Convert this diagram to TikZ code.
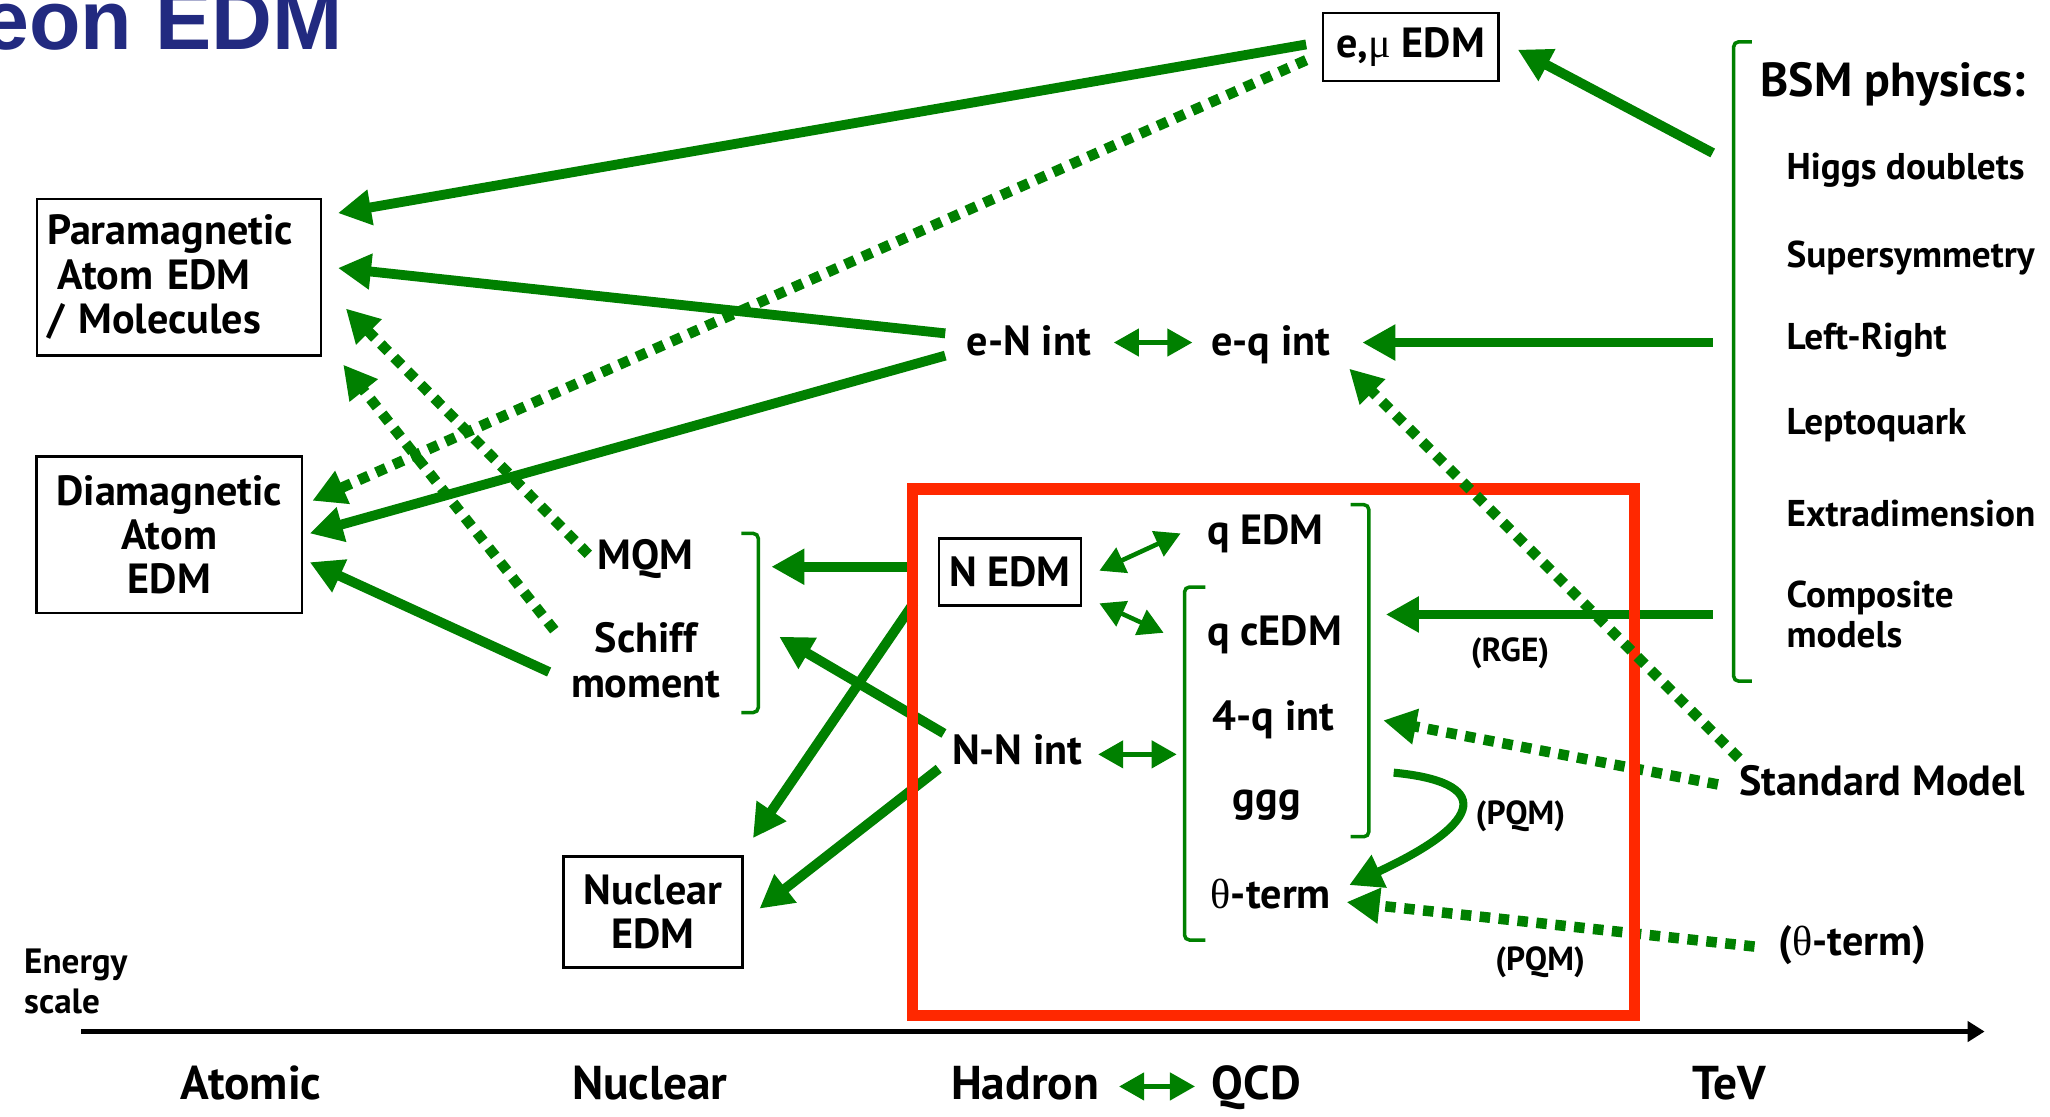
\documentclass[tikz,border=0pt]{standalone}
\usepackage{fontspec}
\setmainfont{PT Sans}
\newfontfamily\titlefont{Liberation Sans}
\newfontfamily\greekfont{Liberation Serif}
\usetikzlibrary{arrows.meta, calc}

\definecolor{edmgreen}{RGB}{0,128,0}
\definecolor{titleblue}{RGB}{34,42,128}
\definecolor{boxred}{RGB}{255,40,0}

\tikzset{
  lbl/.style={font=\bfseries\fontsize{12}{12.6}\selectfont, inner sep=0pt, align=center},
  flat/.style={text height=0.72em, text depth=0pt},
  word/.style={lbl, flat},
  edmbox/.style={lbl, draw=black, line width=0.7pt},
  item/.style={font=\bfseries\fontsize{10.6}{11.6}\selectfont, inner sep=0pt, anchor=west, align=left},
  note/.style={font=\bfseries\fontsize{9.5}{10}\selectfont, inner sep=0pt, flat},
  axislbl/.style={font=\bfseries\fontsize{13.5}{14}\selectfont, inner sep=0pt, flat},
  flow/.style={edmgreen, line width=2.8pt, -{Triangle[length=0.33cm,width=0.34cm]}},
  dotflow/.style={flow, line width=3pt, dash pattern=on 0.105cm off 0.085cm},
  link/.style={edmgreen, line width=1.3pt, {Triangle[length=0.25cm,width=0.27cm]}-{Triangle[length=0.25cm,width=0.27cm]}},
  brk/.style={edmgreen, line width=1pt, rounded corners=0.05cm},
}

\begin{document}
\begin{tikzpicture}[x=0.013074cm, y=-0.013074cm]
  \useasboundingbox (0,0) rectangle (1568,854);
  \fill[white] (0,0) rectangle (1568,854);

  % Title (cut by the page edge)
  \node[anchor=base east, font=\titlefont\bfseries\fontsize{24}{24}\selectfont, text=titleblue, inner sep=0pt] (title) at (263,38) {eon EDM};

  % Boxes
  \node[edmbox, minimum width=1.752cm, minimum height=0.68cm] (emu) at (1079,36) {e,{\greekfont\mdseries μ} EDM};
  \node[edmbox, text width=2.64cm, minimum height=1.569cm, inner sep=0.1cm, align=left] (para) at (137,212) {Paramagnetic\\\hspace*{0.25em}Atom EDM\\/ Molecules};
  \node[edmbox, minimum width=2.654cm, minimum height=1.569cm] (dia) at (129.5,409) {Diamagnetic\\Atom\\EDM};
  \node[edmbox, minimum width=1.425cm, minimum height=0.667cm] (nedm) at (772.5,437.5) {N EDM};
  \node[edmbox, minimum width=1.791cm, minimum height=1.111cm] (nuc) at (499.5,697.5) {Nuclear\\EDM};

  % Interactions
  \node[word] (eN) at (787,262) {e-N int};
  \node[word] (eq) at (972,262) {e-q int};
  \node[word] (mqm) at (494,426) {MQM};
  \node[lbl] (schiff) at (494,505) {Schiff\\moment};
  \node[word] (NN) at (778,575) {N-N int};
  \node[word] (qedm) at (968,407) {q EDM};
  \node[word] (qcedm) at (975,484) {q cEDM};
  \node[word] (fourq) at (974,549) {4-q int};
  \node[word] (ggg) at (969,611) {ggg};
  \node[word] (theta) at (972,685) {{\greekfont\mdseries θ}-term};

  % BSM list
  \node[item, flat, font=\bfseries\fontsize{13.6}{15}\selectfont] (bsm) at (1346,64) {BSM physics:};
  \node[item, flat] (higgs) at (1366,128) {Higgs doublets};
  \node[item, flat] (susy) at (1366,195) {Supersymmetry};
  \node[item, flat] (lr) at (1366,258) {Left-Right};
  \node[item, flat] (lq) at (1366,323) {Leptoquark};
  \node[item, flat] (xdim) at (1366,393) {Extradimension};
  \node[item] (comp) at (1366,470) {Composite\\models};
  \node[word, anchor=west] (sm) at (1330,599) {Standard Model};
  \node[word, anchor=west] (thterm) at (1360,721) {({\greekfont\mdseries θ}-term)};

  % Small notes
  \node[note] (rge) at (1155,496) {(RGE)};
  \node[note] (pqmA) at (1163,621) {(PQM)};
  \node[note] (pqmB) at (1178,733) {(PQM)};

  % Brackets
  \draw[brk] (567,408) -- (580,408) -- (580,545) -- (567,545);
  \draw[brk] (1033,386) -- (1047,386) -- (1047,640) -- (1033,640);
  \draw[brk] (922,449) -- (906,449) -- (906,719) -- (922,719);
  \draw[brk] (1340,32) -- (1326,32) -- (1326,521) -- (1340,521);

  % Solid flows
  \draw[flow] ($(emu.west)+(-12,-2)$) -- ($(para.east)+(12,-49)$);
  \draw[flow] ($(eN)+(-64,-7)$) -- ($(para.east)+(12,-7)$);
  \draw[flow] ($(eN)+(-64,10)$) -- ($(dia.east)+(5,-1)$);
  \draw[flow] ($(schiff)+(-74,9)$) -- ($(dia.east)+(5,21)$);
  \draw[flow] ($(higgs.west)+(-56,-11)$) -- ($(emu.east)+(14,2)$);
  \draw[flow] ($(lr.west)+(-56,4)$) -- ($(eq)+(70,0)$);
  \draw[flow] ($(comp.west)+(-56,0)$) -- ($(qcedm)+(85,-14)$);
  \draw[flow] ($(nedm.west)+(-21,-4)$) -- ($(mqm)+(96,7.5)$);
  \draw[flow] ($(NN)+(-56,-14)$) -- ($(schiff)+(102,-18)$);
  \draw[flow] ($(nedm.south west)+(-18,-3)$) -- ($(nuc.north east)+(7,-13)$);
  \draw[flow] ($(NN)+(-60,13)$) -- ($(nuc.east)+(12,-2.5)$);
  \draw[flow, line width=2.3pt] ($(ggg)+(97,-20)$) .. controls ($(ggg)+(171,-13)$) and ($(ggg)+(169,17)$) .. ($(theta)+(60,-8)$);

  % Two-way links
  \draw[link] ($(eN)+(65,0)$) -- ($(eq)+(-60,0)$);
  \draw[link] ($(nedm.east)+(13,-1)$) -- ($(qedm)+(-65,1)$);
  \draw[link] ($(nedm.east)+(13,24)$) -- ($(qcedm)+(-85,0)$);
  \draw[link] ($(NN)+(62,2)$) -- ($(fourq)+(-74,28)$);

  % Dotted flows
  \draw[dotflow] ($(emu.west)+(-12,10)$) -- ($(dia.east)+(7,-26)$);
  \draw[dotflow] ($(mqm)+(-44,-2)$) -- ($(para.east)+(18,24)$);
  \draw[dotflow] ($(schiff)+(-70,-23)$) -- ($(para.south east)+(16,6)$);
  \draw[dotflow] ($(sm.west)+(-16,1)$) -- ($(fourq)+(84,2)$);
  \draw[dotflow] ($(thterm.west)+(-18,3)$) -- ($(theta)+(58,5)$);

  % Hadron/QCD frame
  \draw[boxred, line width=3.2pt] (698,374) rectangle (1250,777);
  \draw[dotflow] ($(sm.west)+(0,-19)$) -- ($(eq)+(60,20)$);

  % Energy axis
  \node[item, font=\bfseries\fontsize{10}{11.4}\selectfont] (escale) at (18,751) {Energy\\scale};
  \coordinate (ax0) at (62,789);
  \coordinate (ax1) at (1518,789);
  \draw[line width=1.3pt, -{Triangle[length=0.17cm,width=0.2cm]}] (ax0) -- (ax1);
  \node[axislbl] (atomic) at (192,831) {Atomic};
  \node[axislbl] (nuclear) at (497,831) {Nuclear};
  \node[axislbl] (hadron) at (784,831) {Hadron};
  \node[axislbl] (qcd) at (961,831) {QCD};
  \node[axislbl] (tev) at (1323,831) {TeV};
  \draw[link] ($(hadron)+(72,0)$) -- ($(qcd)+(-47,0)$);
\end{tikzpicture}
\end{document}
